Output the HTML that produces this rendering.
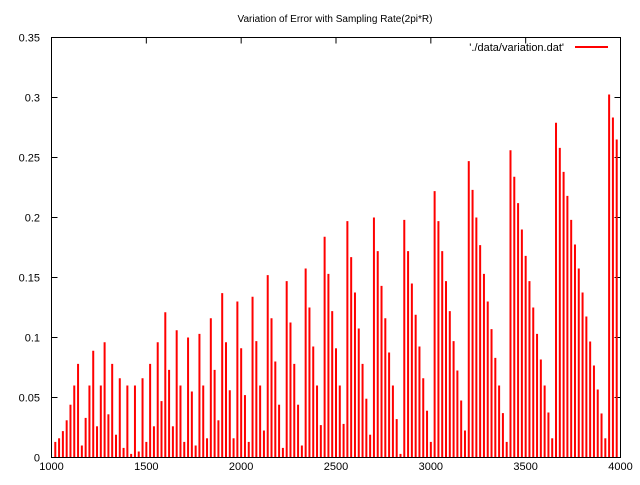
<!DOCTYPE html>
<html><head><meta charset="utf-8"><style>
body{margin:0;background:#fff}
svg text{font-family:"Liberation Sans",sans-serif;font-size:11px;fill:#000}
</style></head><body>
<svg id="chart" width="640" height="480" viewBox="0 0 640 480" xmlns="http://www.w3.org/2000/svg">
<rect width="640" height="480" fill="#fff"/>
<text x="335" y="22" text-anchor="middle" style="font-size:10px">Variation of Error with Sampling Rate(2pi*R)</text>
<g id="ticks"></g>
<g id="bars"></g>
<rect x="51.5" y="37.5" width="569" height="420" fill="none" stroke="#000" stroke-width="1"/>
<text x="564" y="51" text-anchor="end">'./data/variation.dat'</text>
<line x1="575" y1="47" x2="608" y2="47" stroke="#f00" stroke-width="2"/>
</svg>
<script>
const xStart = 1020, xStep = 20;
const values = [0.013,0.016,0.022,0.031,0.044,0.060,0.078,0.010,0.033,0.060,0.089,0.026,0.060,0.096,0.036,0.078,0.019,0.066,0.008,0.060,0.003,0.060,0.005,0.066,0.013,0.078,0.026,0.096,0.047,0.121,0.073,0.026,0.106,0.060,0.013,0.100,0.055,0.010,0.103,0.060,0.016,0.116,0.073,0.031,0.137,0.096,0.056,0.016,0.130,0.091,0.052,0.013,0.134,0.097,0.060,0.0225,0.152,0.116,0.080,0.044,0.008,0.147,0.1125,0.078,0.044,0.010,0.1575,0.125,0.0925,0.060,0.027,0.184,0.153,0.122,0.091,0.060,0.028,0.197,0.167,0.1375,0.1075,0.078,0.049,0.019,0.200,0.172,0.143,0.116,0.0875,0.060,0.032,0.003,0.198,0.172,0.145,0.119,0.0925,0.066,0.039,0.013,0.222,0.197,0.172,0.147,0.122,0.097,0.0725,0.0475,0.0225,0.247,0.223,0.200,0.177,0.153,0.130,0.107,0.083,0.060,0.037,0.013,0.256,0.234,0.212,0.190,0.168,0.147,0.125,0.103,0.0817,0.060,0.0375,0.016,0.279,0.258,0.238,0.218,0.198,0.1775,0.1575,0.1375,0.1175,0.0967,0.0767,0.0567,0.0367,0.016,0.3025,0.2833,0.265];
const xTicks = [1000,1500,2000,2500,3000,3500,4000];
const yTicks = [0,0.05,0.1,0.15,0.2,0.25,0.3,0.35];
const yTickLabels = ["0","0.05","0.1","0.15","0.2","0.25","0.3","0.35"];
const L=51.5,R=620.5,T=37.5,B=457.5;
const xs=v=>L+(v-1000)/3000*(R-L);
const ys=v=>B-v/0.35*(B-T);
const NS="http://www.w3.org/2000/svg";
const tg=document.getElementById('ticks'), bg=document.getElementById('bars');
function mk(tag,attrs,parent){const e=document.createElementNS(NS,tag);for(const k in attrs)e.setAttribute(k,attrs[k]);parent.appendChild(e);return e;}
xTicks.forEach(v=>{
  const x=xs(v);
  const t1=mk('line',{x1:x,y1:B,x2:x,y2:B-6,stroke:'#000'},tg);
  
  
  const t2=mk('line',{x1:x,y1:T,x2:x,y2:T+6,stroke:'#000'},tg);
  
  
  const tx=mk('text',{x:x,y:470,'text-anchor':'middle'},tg);
  tx.textContent=String(v);
  
  
});
yTicks.forEach((v,i)=>{
  const y=ys(v);
  const t1=mk('line',{x1:L,y1:y,x2:L+6,y2:y,stroke:'#000'},tg);
  
  
  const t2=mk('line',{x1:R,y1:y,x2:R-6,y2:y,stroke:'#000'},tg);
  
  
  const tx=mk('text',{x:40,y:y+4,'text-anchor':'end'},tg);
  tx.textContent=yTickLabels[i];
  
  
});
values.forEach((v,i)=>{
  const x=xs(xStart+i*xStep);
  const b=mk('line',{x1:x,y1:B,x2:x,y2:ys(v),stroke:'#f00','stroke-width':2},bg);
  
  
});
</script>
</body></html>
